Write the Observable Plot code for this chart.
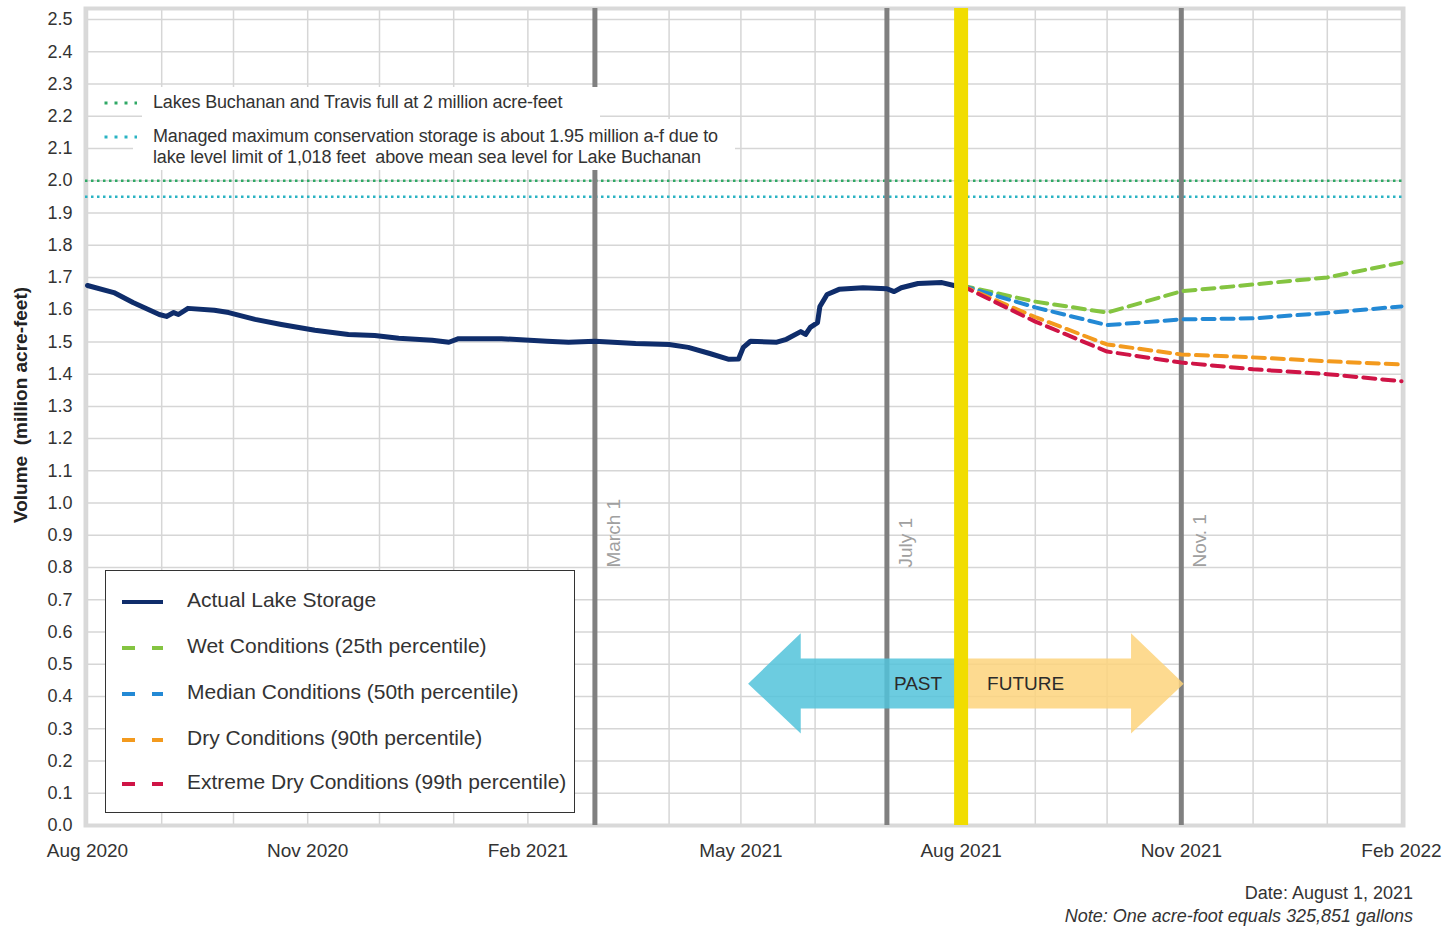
<!DOCTYPE html>
<html><head><meta charset="utf-8">
<script src="https://cdn.jsdelivr.net/npm/d3@7"></script>
<script src="https://cdn.jsdelivr.net/npm/@observablehq/plot@0.6"></script>
<style>
body{margin:0;background:#fff;font-family:"Liberation Sans",Arial,sans-serif;color:#333;}
#wrap{position:relative;width:1447px;height:927px;overflow:hidden;}
.wbox{position:absolute;background:#fff;}
.reftxt{position:absolute;font-size:18px;line-height:21px;color:#333;letter-spacing:-0.15px;white-space:nowrap;}
#legend{position:absolute;left:105px;top:570px;width:468px;height:241px;border:1.5px solid #333;background:#fff;}
.lrow{position:absolute;left:0;height:30px;width:100%;}
.lrow svg{position:absolute;left:16px;top:12px;}
.lrow span{position:absolute;left:81px;top:1px;font-size:21px;color:#333;white-space:nowrap;}
.note{position:absolute;right:34px;font-size:18px;color:#333;white-space:nowrap;}
</style></head><body><div id="wrap"></div>
<script>
// ---- data ----
const actualDates = ["2020-08-01","2020-08-12","2020-08-20","2020-08-31","2020-09-03","2020-09-06","2020-09-08","2020-09-12","2020-09-23","2020-09-29","2020-10-10","2020-10-21","2020-11-04","2020-11-18","2020-11-29","2020-12-09","2020-12-23","2020-12-30","2021-01-03","2021-01-21","2021-02-09","2021-02-18","2021-03-01","2021-03-18","2021-04-01","2021-04-09","2021-04-18","2021-04-26","2021-04-30","2021-05-02","2021-05-05","2021-05-16","2021-05-20","2021-05-26","2021-05-28","2021-05-30","2021-06-02","2021-06-03","2021-06-06","2021-06-11","2021-06-21","2021-07-01","2021-07-04","2021-07-07","2021-07-14","2021-07-24","2021-07-29","2021-08-01"];
const actualValues = [1.675,1.653,1.622,1.585,1.579,1.591,1.585,1.604,1.598,1.591,1.570,1.554,1.536,1.523,1.520,1.511,1.505,1.499,1.510,1.510,1.502,1.499,1.502,1.495,1.492,1.483,1.464,1.446,1.447,1.483,1.502,1.499,1.508,1.532,1.523,1.545,1.560,1.610,1.647,1.663,1.668,1.665,1.656,1.668,1.681,1.684,1.675,1.675];
const projDates = ["2021-08-01","2021-09-01","2021-10-01","2021-11-01","2021-12-01","2022-01-01","2022-02-01"];
const wetValues = [1.675,1.625,1.591,1.657,1.678,1.700,1.746];
const medianValues = [1.675,1.607,1.552,1.570,1.573,1.590,1.610];
const dryValues = [1.675,1.577,1.492,1.461,1.452,1.440,1.430];
const extremeValues = [1.675,1.563,1.470,1.436,1.415,1.400,1.378];
const seriesNames = ["Actual Lake Storage","Wet Conditions (25th percentile)","Median Conditions (50th percentile)","Dry Conditions (90th percentile)","Extreme Dry Conditions (99th percentile)"];
const seriesColors = ["#0f2d6b","#84c441","#2389d5","#f39a1e","#cf1446"];
const yTicks = d3.range(0, 26).map(i => i / 10);
const xTickDates = ["2020-08-01","2020-11-01","2021-02-01","2021-05-01","2021-08-01","2021-11-01","2022-02-01"];
const refValues = [2.0, 1.95];
const refColors = ["#2fa865","#2ab3c3"];
const refLabels = ["Lakes Buchanan and Travis full at 2 million acre-feet","Managed maximum conservation storage is about 1.95 million a-f due to<br>lake level limit of 1,018 feet&nbsp; above mean sea level for Lake Buchanan"];
const markerDates = ["2021-03-01","2021-07-01","2021-11-01"];
const markerLabels = ["March 1","July 1","Nov. 1"];
const todayDate = "2021-08-01";
// PAST / FUTURE arrow outlines (date, value)
const pastArrowDates = ["2021-08-01","2021-05-26","2021-05-26","2021-05-04","2021-05-26","2021-05-26","2021-08-01"];
const pastArrowValues = [0.518,0.518,0.596,0.440,0.285,0.363,0.363];
const futureArrowDates = ["2021-08-01","2021-10-11","2021-10-11","2021-11-02","2021-10-11","2021-10-11","2021-08-01"];
const futureArrowValues = [0.518,0.518,0.596,0.440,0.285,0.363,0.363];
const arrowLabelValue = 0.44;
const markerLabelValue = 0.80;
const xDomain = ["2020-08-01","2022-02-01"];

// ---- build ----
const P = s => d3.utcParse("%Y-%m-%d")(s);
const actual = actualDates.map((d, i) => ({date: P(d), value: actualValues[i]}));
const projSets = [wetValues, medianValues, dryValues, extremeValues];
const proj = projSets.flatMap((vals, k) => projDates.map((d, i) => ({date: P(d), value: vals[i], series: seriesNames[k + 1]})));
const pastArrow = pastArrowDates.map((d, i) => ({date: P(d), value: pastArrowValues[i]}));
const futureArrow = futureArrowDates.map((d, i) => ({date: P(d), value: futureArrowValues[i]}));
const months = d3.utcMonth.range(P(xDomain[0]), d3.utcDay.offset(P(xDomain[1]), 1));
const markers = markerDates.map((d, i) => ({date: P(d), label: markerLabels[i]}));
const today = P(todayDate);

const chart = Plot.plot({
  width: 1447, height: 872,
  marginLeft: 85, marginRight: 44, marginTop: 8, marginBottom: 47,
  style: {fontFamily: "'Liberation Sans', Arial, sans-serif", color: "#333", background: "transparent"},
  x: {type: "utc", domain: xDomain.map(P), insetLeft: 2, insetRight: 2},
  y: {domain: [0, 2.5], insetTop: 11},
  color: {domain: seriesNames, range: seriesColors},
  marks: [
    Plot.gridY(yTicks, {stroke: "#d6d6d6", strokeOpacity: 1, strokeWidth: 1.5}),
    Plot.gridX(months, {stroke: "#d6d6d6", strokeOpacity: 1, strokeWidth: 1.5}),
    Plot.frame({stroke: "#d9d9d9", strokeWidth: 4}),
    Plot.axisY(yTicks, {tickSize: 0, tickPadding: 13, tickFormat: d3.format(".1f"), fontSize: 18, label: null}),
    Plot.axisX(xTickDates.map(P), {tickSize: 0, tickPadding: 18, tickFormat: d3.utcFormat("%b %Y"), fontSize: 19, label: null}),
    Plot.text(["Volume\u00a0 (million acre-feet)"], {text: d => d, frameAnchor: "left", textAnchor: "middle", dx: -65, dy: -12, rotate: -90, fontWeight: "bold", fontSize: 19, fill: "#222"}),
    Plot.ruleY(refValues, {y: d => d, stroke: (d, i) => refColors[i], strokeWidth: 2.5, strokeDasharray: "2.5,3.5"}),
    Plot.ruleX(markers, {x: "date", stroke: "#808080", strokeWidth: 5}),
    Plot.line(pastArrow, {x: "date", y: "value", fill: "#52c3da", fillOpacity: 0.85, stroke: "none"}),
    Plot.line(futureArrow, {x: "date", y: "value", fill: "#fdd47c", fillOpacity: 0.85, stroke: "none"}),
    Plot.text(["PAST"], {text: d => d, x: () => today, y: () => arrowLabelValue, textAnchor: "end", dx: -19, fontSize: 19, fill: "#2b2b2b"}),
    Plot.text(["FUTURE"], {text: d => d, x: () => today, y: () => arrowLabelValue, textAnchor: "start", dx: 26, fontSize: 19, fill: "#2b2b2b"}),
    Plot.line(actual, {x: "date", y: "value", stroke: seriesColors[0], strokeWidth: 5, strokeLinejoin: "round"}),
    Plot.line(proj, {x: "date", y: "value", z: "series", stroke: "series", strokeWidth: 4, strokeDasharray: "12,7"}),
    Plot.ruleX([today], {stroke: "#f1dd00", strokeWidth: 14}),
    Plot.text(markers, {x: "date", y: () => markerLabelValue, text: "label", rotate: -90, textAnchor: "start", dx: 19, fontSize: 19, fill: "#a0a0a0"})
  ]
});
const wrap = document.getElementById("wrap");
chart.style.position = "absolute"; chart.style.left = "0"; chart.style.top = "0";
wrap.appendChild(chart);

// top reference-line key (white boxes over grid)
const boxes = [[98,88,44,26],[142,87,458,32],[98,122,35,24],[133,119,602,51]];
boxes.forEach(b => { const d = document.createElement("div"); d.className = "wbox"; d.style.cssText = `left:${b[0]}px;top:${b[1]}px;width:${b[2]}px;height:${b[3]}px`; wrap.appendChild(d); });
const keyTops = [92, 126];
refLabels.forEach((t, i) => {
  const sw = document.createElementNS("http://www.w3.org/2000/svg", "svg");
  sw.setAttribute("width", 40); sw.setAttribute("height", 8);
  sw.style.cssText = `position:absolute;left:103px;top:${keyTops[i] + 7}px`;
  sw.innerHTML = `<line x1="1.5" x2="34" y1="4" y2="4" stroke="${refColors[i]}" stroke-width="3" stroke-dasharray="3,7"/>`;
  wrap.appendChild(sw);
  const d = document.createElement("div"); d.className = "reftxt";
  d.style.left = "153px"; d.style.top = keyTops[i] + "px"; d.innerHTML = t; wrap.appendChild(d);
});

// bottom series legend
const lg = document.createElement("div"); lg.id = "legend";
const rowTops = [16, 62, 108, 154, 198];
seriesNames.forEach((n, i) => {
  const r = document.createElement("div"); r.className = "lrow"; r.style.top = rowTops[i] + "px";
  const dash = i === 0 ? "" : `stroke-dasharray="13,17"`;
  r.innerHTML = `<svg width="44" height="6"><line x1="0" x2="41" y1="3" y2="3" stroke="${seriesColors[i]}" stroke-width="4" ${dash}/></svg><span>${n}</span>`;
  lg.appendChild(r);
});
wrap.appendChild(lg);

// notes
const n1 = document.createElement("div"); n1.className = "note"; n1.style.top = "883px"; n1.textContent = "Date: August 1, 2021"; wrap.appendChild(n1);
const n2 = document.createElement("div"); n2.className = "note"; n2.style.top = "906px"; n2.style.fontStyle = "italic"; n2.textContent = "Note: One acre-foot equals 325,851 gallons"; wrap.appendChild(n2);
</script></body></html>
